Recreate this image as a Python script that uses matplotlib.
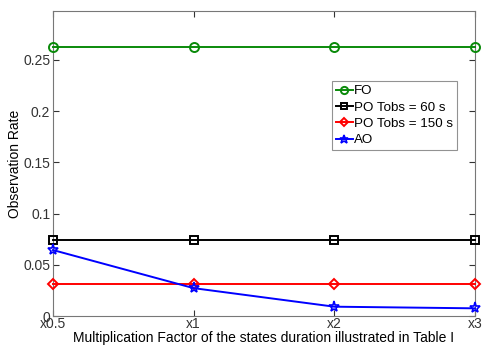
import numpy as np
import matplotlib
matplotlib.use('Agg')
import matplotlib.pyplot as plt

plt.rcParams['font.family'] = ['Liberation Sans', 'DejaVu Sans']

# x categories
factors = ['x0.5', 'x1', 'x2', 'x3']
# observation rate per series
fo = [0.263, 0.263, 0.263, 0.263]
po60 = [0.0742, 0.0742, 0.0742, 0.0742]
po150 = [0.0317, 0.0317, 0.0317, 0.0317]
ao = [0.0644, 0.0272, 0.0091, 0.0075]

xs = np.arange(1, len(factors) + 1)

fig = plt.figure(figsize=(4.83, 3.47), dpi=100)
ax = fig.add_axes([0.1097, 0.0893, 0.8737, 0.8797])

ax.plot(xs, fo, color='#0a8a0a', lw=1.4, marker='o', ms=6.5, mfc='none', mew=1.4, label='FO', clip_on=False, zorder=3)
ax.plot(xs, po60, color='black', lw=1.4, marker='s', ms=6, mfc='none', mew=1.4, label='PO Tobs = 60 s', clip_on=False, zorder=3)
ax.plot(xs, po150, color='red', lw=1.4, marker='D', ms=5.5, mfc='none', mew=1.4, label='PO Tobs = 150 s', clip_on=False, zorder=3)
ax.plot(xs, ao, color='blue', lw=1.4, marker='*', ms=8, mfc='none', mew=1.2, label='AO', clip_on=False, zorder=4)

ax.set_xlim(1, 4)
ax.set_ylim(0, 0.298)
ax.set_xticks(xs)
ax.set_xticklabels(factors)
ax.set_yticks([0, 0.05, 0.1, 0.15, 0.2, 0.25])
ax.set_yticklabels(['0', '0.05', '0.1', '0.15', '0.2', '0.25'])

ax.tick_params(direction='in', length=4, width=0.8, labelsize=10, colors='#333333',
               top=True, right=True, pad=2)
ax.tick_params(axis='x', pad=1)
for s in ax.spines.values():
    s.set_color('#777777')
    s.set_linewidth(0.8)

ax.set_xlabel('Multiplication Factor of the states duration illustrated in Table I', fontsize=10, labelpad=0)
ax.set_ylabel('Observation Rate', fontsize=10, labelpad=1)

leg = ax.legend(loc='upper left', bbox_to_anchor=(0.66, 0.77), fontsize=9.6, frameon=True,
                fancybox=False, edgecolor='#777777', handlelength=1.3, handletextpad=0.1,
                labelspacing=0.3, borderpad=0.3, borderaxespad=0, markerscale=0.8)
leg.get_frame().set_linewidth(0.8)

fig.savefig('out.png', dpi=100)
